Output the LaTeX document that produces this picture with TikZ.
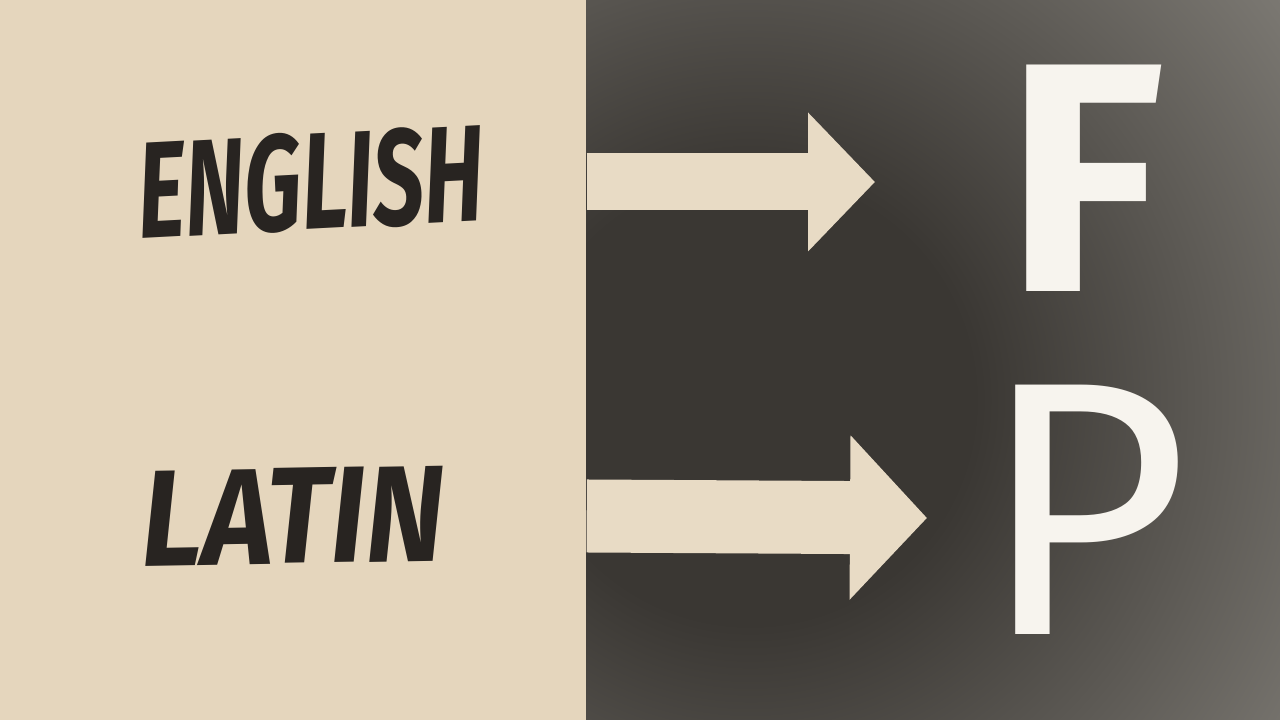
\documentclass[tikz,border=0pt]{standalone}
\usepackage{fontspec}
\setmainfont{Fira Sans}
\usepackage{xcolor}
\usetikzlibrary{arrows.meta}
\definecolor{paperTan}{RGB}{229,214,189}
\definecolor{paperLight}{RGB}{232,219,197}
\definecolor{inkBlack}{RGB}{40,36,33}
\definecolor{chalkWhite}{RGB}{247,244,238}
\definecolor{slateDark}{RGB}{58,55,51}
\definecolor{slateLight}{RGB}{124,121,115}
\pgfdeclareradialshading{slateglow}{\pgfpoint{0bp}{0bp}}{color(0bp)=(slateDark); color(8bp)=(slateDark); color(24bp)=(slateLight); color(25bp)=(slateLight); color(50bp)=(slateLight)}

\begin{document}
\begin{tikzpicture}[
    word/.style={text=inkBlack,inner sep=0pt,font=\bfseries\itshape\fontsize{39}{39}\selectfont},
    letter/.style={text=chalkWhite,inner sep=0pt},
    fatarrow/.style n args={3}{draw=paperLight,line width=#1,-{Triangle[length=#2,width=#3]}}
]
    \useasboundingbox (0,0) rectangle (12.8,7.2);

    % Board
    \fill[slateLight] (5.86,0) rectangle (12.8,7.2);
    \begin{scope}
        \clip (5.86,0) rectangle (12.8,7.2);
        \shade[shading=slateglow] (7.5,3.2) circle (7cm);
    \end{scope}

    % Paper
    \node[fill=paperTan,inner sep=0pt,minimum width=5.86cm,minimum height=7.2cm] (paper) at (2.93,3.6) {};

    % Words
    \node[word,rotate=3] (english) at (3.11,5.38) {\scalebox{0.66}[1]{ENGLISH}};
    \node[word,rotate=1] (latin) at (2.93,2.04) {\scalebox{0.88}[1]{LATIN}};

    % Letters
    \node[letter,font=\bfseries\fontsize{93}{93}\selectfont] (fletter) at (10.85,5.42) {F};
    \node[letter,font=\fontsize{103}{103}\selectfont] (pletter) at (10.85,2.10) {P};

    \coordinate (englishtip) at (8.75,5.38);
    \coordinate (latintip) at (9.27,2.02);

    \draw[fatarrow={0.57cm}{0.67cm}{1.35cm}] (paper.east |- english) -- (englishtip);
    \draw[fatarrow={0.73cm}{0.77cm}{1.6cm}] (paper.east |- latin) -- (latintip);
\end{tikzpicture}
\end{document}
